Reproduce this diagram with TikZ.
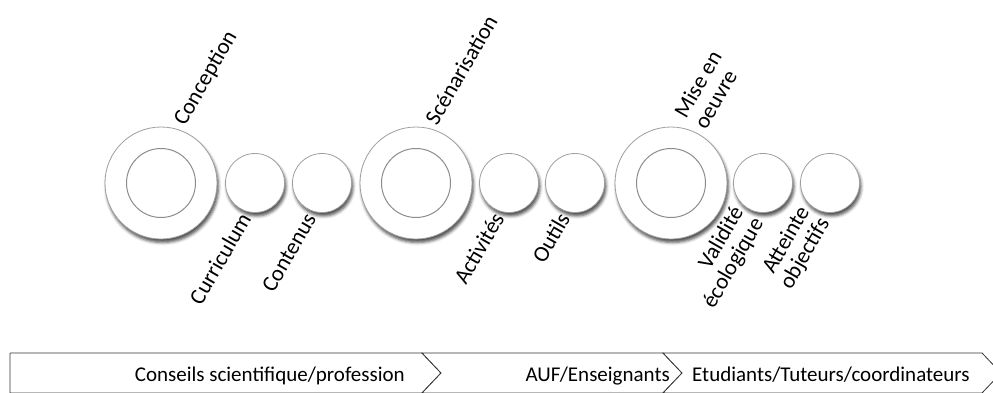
\documentclass[tikz,border=0pt]{standalone}
\usepackage{fontspec}
\setmainfont{Carlito}
\usetikzlibrary{shadows.blur}

\begin{document}
\begin{tikzpicture}
[x=1pt,y=1pt,
  ringdecorate/.style={shape=circle,draw=gray!75,fill=white,line width=0.8pt,
    blur shadow={shadow xshift=1.5pt,shadow yshift=-3.5pt,shadow blur radius=3pt,shadow opacity=70}},
  bigdecorate/.style={ringdecorate,minimum size=112pt,inner sep=0pt},
  holedecorate/.style={shape=circle,draw=gray!90,line width=1pt,minimum size=69pt,inner sep=0pt},
  smalldecorate/.style={ringdecorate,minimum size=59pt,inner sep=0pt},
  labeldecorate/.style={rotate=60,inner sep=0pt,font=\fontsize{22.5}{23}\selectfont},
  banddecorate/.style={draw=black!80,line width=0.8pt,fill=white},
  bandtext/.style={inner sep=0pt,font=\fontsize{21}{24}\selectfont}]
\useasboundingbox (0,0) rectangle (993,392);
\clip (0,0) rectangle (993,392);
%% phases
\foreach \nodename/\x in {conception/161, scenarisation/416, miseenoeuvre/671} {
  \node (\nodename) at (\x,209) [bigdecorate] {};
  \node (\nodename-hole) at (\x,209) [holedecorate] {};
}
%% steps inside each phase
\foreach \nodename/\x in {curriculum/255, contenus/322, activites/509, outils/575,
    validite/763, atteinte/830} {
  \node (\nodename) at (\x,209) [smalldecorate] {};
}
%% labels above
\node (conception-lbl) [labeldecorate,anchor=base west] at ([shift={(24,56)}]conception.center) {Conception};
\node (scenarisation-lbl) [labeldecorate,anchor=base west] at ([shift={(21,56)}]scenarisation.center) {Scénarisation};
\node (miseenoeuvre-lbl) [labeldecorate,anchor=base west,align=left] at ([shift={(35,52)}]miseenoeuvre.center) {Mise en\\oeuvre};
%% labels below
\foreach \nodename/\dx/\dy/\txt in {curriculum/-3/-35.5/Curriculum, contenus/-5/-35.5/Contenus,
    activites/-4/-35.5/Activités, outils/-4/-35.5/Outils,
    validite/1/-40/Validité\\écologique, atteinte/0/-40/Atteinte\\objectifs} {
  \node (\nodename-lbl) [labeldecorate,anchor=base east,align=right] at ([shift={(\dx,\dy)}]\nodename.center) {\txt};
}
%% actors band
\coordinate (band0) at (10,39);
\coordinate (band1) at (422,39);
\coordinate (band2) at (663,39);
\coordinate (band3) at (982,39);
\draw[banddecorate] (band0) -- (band1) -- ++(19,-20) -- ++(-19,-20) -| (band0);
\draw[banddecorate] (band1) -- (band2) -- ++(19,-20) -- ++(-19,-20) -- ++(-241,0) -- ++(19,20) -- cycle;
\draw[banddecorate] (band2) -- (band3) -- ++(19,-20) -- ++(-19,-20) -- ++(-319,0) -- ++(19,20) -- cycle;
\node (conseils) [bandtext,anchor=base east] at (405,10.3) {Conseils scientifique/profession};
\node (auf) [bandtext,anchor=base east] at (670,10.3) {AUF/Enseignants};
\node (etudiants) [bandtext,anchor=base west] at (692,10.3) {Etudiants/Tuteurs/coordinateurs};
\end{tikzpicture}
\end{document}
